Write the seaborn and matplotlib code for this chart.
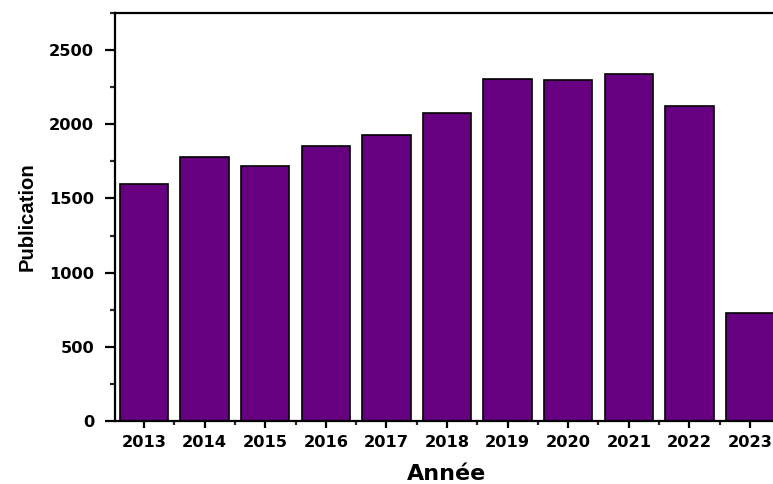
import matplotlib
matplotlib.use("Agg")
import matplotlib.pyplot as plt
import seaborn as sns
import pandas as pd
from matplotlib.ticker import MultipleLocator, FixedLocator

years = ["2013", "2014", "2015", "2016", "2017", "2018", "2019", "2020", "2021", "2022", "2023"]
publications = [1595, 1780, 1720, 1855, 1930, 2073, 2305, 2300, 2337, 2120, 730]

sns.set_theme(style="white")
plt.rcParams['font.family'] = ['DejaVu Sans']
plt.rcParams['font.weight'] = 'bold'
plt.rcParams['text.color'] = 'black'
plt.rcParams['axes.labelcolor'] = 'black'

df = pd.DataFrame({"Année": years, "Publication": publications})

W, H = 773, 484
fig = plt.figure(figsize=(W / 100, H / 100), dpi=100)
ax = fig.add_axes([115 / W, (H - 421) / H, (779 - 115) / W, (421 - 13) / H])

sns.barplot(data=df, x="Année", y="Publication", color="#660080", saturation=1,
            edgecolor="black", linewidth=1.2, width=0.8, ax=ax)

ax.set_ylim(0, 2750)
ax.set_xlim(-0.48, 10.48)
ax.yaxis.set_major_locator(MultipleLocator(500))
ax.yaxis.set_minor_locator(MultipleLocator(250))
ax.xaxis.set_minor_locator(FixedLocator([i + 0.5 for i in range(-1, 11)]))

for side in ["left", "top", "bottom"]:
    ax.spines[side].set_visible(True)
    ax.spines[side].set_linewidth(1.6)
    ax.spines[side].set_color("black")
ax.spines["right"].set_visible(False)

ax.tick_params(axis="y", which="major", direction="out", length=7, width=1.6,
               labelsize=11.7, pad=8, left=True, colors="black")
ax.tick_params(axis="y", which="minor", direction="out", length=3.5, width=1.6, left=True)
ax.tick_params(axis="x", which="major", direction="out", length=5, width=1.6,
               labelsize=11.7, pad=5, bottom=True, colors="black")
ax.tick_params(axis="x", which="minor", direction="out", length=3, width=1.6, bottom=True)
for lab in ax.get_xticklabels() + ax.get_yticklabels():
    lab.set_fontweight("bold")

ax.set_xlabel("Année", fontsize=16, fontweight="bold", labelpad=10, color="black")
ax.set_ylabel("Publication", fontsize=14.6, fontweight="bold", labelpad=9, color="black",
              family=["Liberation Sans", "DejaVu Sans"])

fig.savefig("out.png", dpi=100)
